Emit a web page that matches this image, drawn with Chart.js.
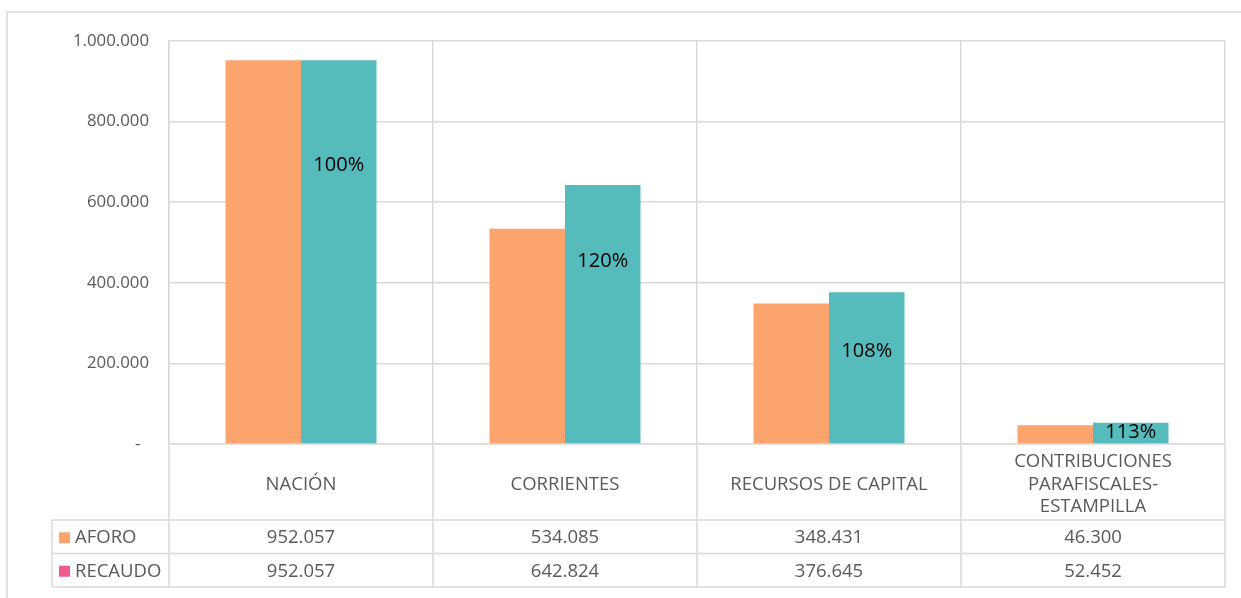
<!DOCTYPE html>
<html>
<head>
<meta charset="utf-8">
<style>
  html, body { margin: 0; padding: 0; background: #fff; }
  canvas { display: block; }
</style>
</head>
<body>
<canvas id="chartAforo" width="1241" height="598"></canvas>
<script src="https://cdn.jsdelivr.net/npm/chart.js@4.4.0/dist/chart.umd.min.js"></script>
<script>
// Datos
const categorias = ['NACIÓN', 'CORRIENTES', 'RECURSOS DE CAPITAL', ['CONTRIBUCIONES', 'PARAFISCALES-', 'ESTAMPILLA']];
const aforo = [952057, 534085, 348431, 46300];
const recaudo = [952057, 642824, 376645, 52452];
// altura (en valores del eje) donde va la etiqueta de porcentaje
const posPorcentaje = [692000, 454000, 231000, 30000];
const ticksY = [0, 200000, 400000, 600000, 800000, 1000000];

const colorAforo = '#FBA46E';
const colorRecaudo = '#55BBBD';
const colorLeyendaRecaudo = '#EE5A8B';
const gris = '#D9D9D9';
const textoGris = '#595959';
const fuente = "'Open Sans', sans-serif";

function miles(v) {
    return String(v).replace(/\B(?=(\d{3})+(?!\d))/g, '.');
}

// marco exterior
const marco = {
    id: 'marco',
    beforeDraw(chart) {
        const ctx = chart.ctx;
        ctx.save();
        ctx.strokeStyle = gris;
        ctx.lineWidth = 1.5;
        ctx.strokeRect(7, 12, 1300, 700);
        ctx.restore();
    }
};

// tabla de datos debajo del eje y porcentajes
const tabla = {
    id: 'tabla',
    afterDraw(chart) {
        const ctx = chart.ctx;
        const x = chart.scales.x;
        const y = chart.scales.y;
        const a = chart.chartArea;
        const filaH = 33.5;
        const top = x.bottom;
        const izq = 52;
        ctx.save();
        ctx.strokeStyle = gris;
        ctx.lineWidth = 1.5;
        // lineas verticales de categorias hacia abajo
        for (let i = 0; i <= categorias.length; i++) {
            const px = x.getPixelForValue(i - 0.5);
            ctx.beginPath();
            ctx.moveTo(px, a.bottom);
            ctx.lineTo(px, top + 2 * filaH);
            ctx.stroke();
        }
        // filas
        for (let r = 0; r <= 2; r++) {
            ctx.beginPath();
            ctx.moveTo(izq, top + r * filaH);
            ctx.lineTo(a.right, top + r * filaH);
            ctx.stroke();
        }
        ctx.beginPath();
        ctx.moveTo(izq, top);
        ctx.lineTo(izq, top + 2 * filaH);
        ctx.stroke();

        const series = [
            { nombre: 'AFORO', datos: aforo, color: colorAforo },
            { nombre: 'RECAUDO', datos: recaudo, color: colorLeyendaRecaudo }
        ];
        ctx.font = '18.5px ' + fuente;
        ctx.textBaseline = 'middle';
        series.forEach((s, r) => {
            const cy = top + r * filaH + filaH / 2 + 1;
            ctx.fillStyle = s.color;
            ctx.fillRect(59, cy - 5.5, 11, 11);
            ctx.fillStyle = textoGris;
            ctx.textAlign = 'left';
            ctx.fillText(s.nombre, 75, cy);
            ctx.textAlign = 'center';
            s.datos.forEach((v, i) => {
                ctx.fillText(miles(v), x.getPixelForValue(i), cy);
            });
        });

        // porcentajes recaudo / aforo
        const meta = chart.getDatasetMeta(1);
        ctx.font = '20px ' + fuente;
        ctx.fillStyle = '#000';
        ctx.textAlign = 'center';
        recaudo.forEach((v, i) => {
            const pct = Math.round(v / aforo[i] * 100) + '%';
            ctx.fillText(pct, meta.data[i].x, y.getPixelForValue(posPorcentaje[i]));
        });
        ctx.restore();
    }
};

new Chart(document.getElementById('chartAforo'), {
    type: 'bar',
    data: {
        labels: categorias,
        datasets: [
            {
                label: 'AFORO',
                data: aforo,
                backgroundColor: colorAforo,
                borderWidth: 0,
                categoryPercentage: 0.572,
                barPercentage: 1.0
            },
            {
                label: 'RECAUDO',
                data: recaudo,
                backgroundColor: colorRecaudo,
                borderWidth: 0,
                categoryPercentage: 0.572,
                barPercentage: 1.0
            }
        ]
    },
    options: {
        responsive: false,
        animation: false,
        layout: {
            padding: { left: 52, top: 41, right: 16, bottom: 78 }
        },
        plugins: {
            legend: { display: false },
            tooltip: { enabled: false },
            title: { display: false }
        },
        scales: {
            x: {
                afterFit: (scale) => { scale.height = 76; },
                grid: { color: gris, lineWidth: 1.5, drawTicks: false },
                border: { color: gris, width: 1.5 },
                ticks: {
                    color: textoGris,
                    font: { family: fuente, size: 18.5, lineHeight: 1.22 },
                    padding: 18,
                    crossAlign: 'center',
                    maxRotation: 0,
                    autoSkip: false
                }
            },
            y: {
                min: 0,
                max: 1000000,
                afterFit: (scale) => { scale.width = 117; },
                afterBuildTicks: (scale) => { scale.ticks = ticksY.map(v => ({ value: v })); },
                grid: { color: gris, lineWidth: 1.5, drawTicks: false },
                border: { color: gris, width: 1.5 },
                ticks: {
                    color: textoGris,
                    font: { family: fuente, size: 16.8 },
                    padding: 20,
                    callback: (v) => v === 0 ? '-  ' : miles(v)
                }
            }
        }
    },
    plugins: [marco, tabla]
});
</script>
</body>
</html>
